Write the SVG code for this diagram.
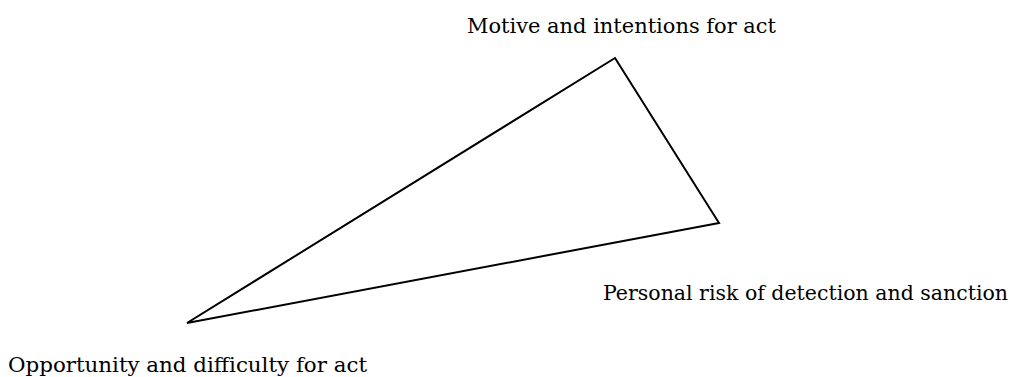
<svg xmlns="http://www.w3.org/2000/svg" width="1015" height="377" viewBox="0 0 1015 377">
<style>
.lbl{font-family:"DejaVu Serif","Liberation Serif",serif;font-size:21px;fill:#000}
.edge{fill:none;stroke:#000;stroke-width:2}
</style>
<rect width="1015" height="377" fill="#fff"/>
<g id="connectors">
<polygon class="edge" points="615,58 719,223 187,323"/>
</g>
<g id="node-motive"><text class="lbl" x="467" y="33" textLength="309" lengthAdjust="spacingAndGlyphs">Motive and intentions for act</text></g>
<g id="node-risk"><text class="lbl" x="603" y="300" style="font-size:20.5px" textLength="405" lengthAdjust="spacingAndGlyphs">Personal risk of detection and sanction</text></g>
<g id="node-opportunity"><text class="lbl" x="8" y="372" textLength="359" lengthAdjust="spacingAndGlyphs">Opportunity and difficulty for act</text></g>
</svg>
